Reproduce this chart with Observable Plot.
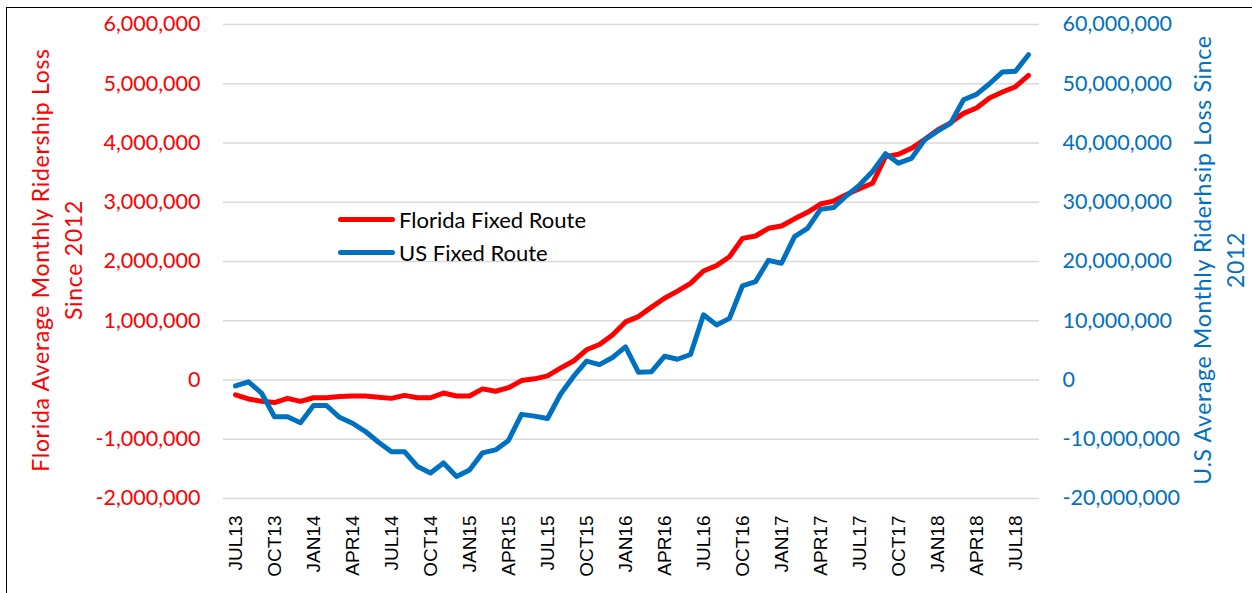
<!DOCTYPE html>
<html>
<head>
<meta charset="utf-8">
<script src="https://cdn.jsdelivr.net/npm/d3@7"></script>
<script src="https://cdn.jsdelivr.net/npm/@observablehq/plot@0.6"></script>
<style>
  html, body { margin: 0; padding: 0; background: #fff; }
  #wrap { position: relative; width: 1252px; height: 593px; overflow: hidden; font-family: Lato, "Open Sans", sans-serif; }
  #frame { position: absolute; left: 6px; top: 7px; width: 1400px; height: 800px; border: 1.5px solid #000; box-sizing: border-box; }
  #chart { position: absolute; left: 0; top: 0; }
  .ytitle { position: absolute; width: 480px; height: 66px; transform: rotate(-90deg); text-align: center; font-size: 23px; letter-spacing: 0.7px; line-height: 33px; white-space: nowrap; }
  #legend { position: absolute; left: 338px; top: 203px; font-size: 22px; color: #000; }
  .li { display: flex; align-items: center; height: 33px; }
  .sw { width: 57px; height: 5px; border-radius: 3px; margin-right: 4px; }
</style>
</head>
<body>
<div id="wrap">
  <div id="frame"></div>
  <div id="chart"></div>
  <div class="ytitle" id="ltitle" style="left:-183px; top:227px; color:#ff0000;">Florida Average Monthly Ridership Loss<br>Since 2012</div>
  <div class="ytitle" id="rtitle" style="left:979px; top:227px; color:#0070c0;">U.S Average Monthly Riderhsip Loss Since<br>2012</div>
  <div id="legend"></div>
</div>
<script>
// Categories (monthly, JUL13 .. AUG18)
const months = [
  "JUL13","AUG13","SEP13","OCT13","NOV13","DEC13",
  "JAN14","FEB14","MAR14","APR14","MAY14","JUN14","JUL14","AUG14","SEP14","OCT14","NOV14","DEC14",
  "JAN15","FEB15","MAR15","APR15","MAY15","JUN15","JUL15","AUG15","SEP15","OCT15","NOV15","DEC15",
  "JAN16","FEB16","MAR16","APR16","MAY16","JUN16","JUL16","AUG16","SEP16","OCT16","NOV16","DEC16",
  "JAN17","FEB17","MAR17","APR17","MAY17","JUN17","JUL17","AUG17","SEP17","OCT17","NOV17","DEC17",
  "JAN18","FEB18","MAR18","APR18","MAY18","JUN18","JUL18","AUG18"
];
// Florida average monthly ridership loss since 2012 (millions)
const floridaM = [
  -0.25,-0.32,-0.36,-0.38,-0.31,-0.36,-0.30,-0.30,-0.28,-0.27,-0.27,-0.29,-0.31,-0.26,-0.30,-0.30,
  -0.22,-0.27,-0.27,-0.15,-0.19,-0.13,-0.01,0.02,0.07,0.20,0.32,0.51,0.60,0.76,0.98,1.07,
  1.23,1.38,1.50,1.63,1.84,1.93,2.08,2.39,2.43,2.56,2.60,2.72,2.83,2.97,3.02,3.13,
  3.23,3.32,3.77,3.81,3.91,4.06,4.22,4.34,4.50,4.59,4.76,4.86,4.95,5.14
];
// U.S. average monthly ridership loss since 2012 (millions)
const usM = [
  -1.0,-0.3,-2.2,-6.2,-6.2,-7.2,-4.3,-4.3,-6.3,-7.3,-8.7,-10.5,-12.1,-12.1,-14.6,-15.7,
  -14.0,-16.3,-15.2,-12.3,-11.8,-10.2,-5.8,-6.1,-6.5,-2.4,0.6,3.2,2.6,3.8,5.6,1.3,
  1.4,4.0,3.5,4.3,11.0,9.3,10.4,15.9,16.6,20.2,19.7,24.2,25.6,28.8,29.1,31.1,
  32.9,35.2,38.2,36.6,37.4,40.5,42.0,43.3,47.3,48.2,50.0,52.0,52.1,54.9
];
// Axis ticks
const leftTicks = [-2000000,-1000000,0,1000000,2000000,3000000,4000000,5000000,6000000];
const rightToLeftRatio = 10; // right axis (U.S.) = 10 x left axis (Florida)
const xTickLabels = months.filter((d, i) => i % 3 === 0);
const seriesNames = ["Florida Fixed Route", "US Fixed Route"];
const seriesColors = ["#ff0000", "#0070c0"];

const fl = months.map((m, i) => ({month: m, value: floridaM[i] * 1e6}));
const us = months.map((m, i) => ({month: m, value: usM[i] * 1e6 / rightToLeftRatio}));
const fmt = d3.formatLocale({decimal: ".", thousands: ",", grouping: [3], currency: ["$", ""], minus: "-"}).format(",");

const chart = Plot.plot({
  width: 1252,
  height: 593,
  marginLeft: 223,
  marginRight: 213,
  marginTop: 24,
  marginBottom: 95,
  style: {background: "transparent", fontFamily: "Lato, 'Open Sans', sans-serif", overflow: "visible"},
  x: {type: "point", domain: months, padding: 0.5, axis: null},
  y: {domain: [-2000000, 6000000], axis: null},
  marks: [
    Plot.ruleY(leftTicks, {stroke: "#d9d9d9", strokeWidth: 1.5}),
    Plot.axisY(leftTicks, {anchor: "left", tickSize: 0, tickPadding: 23, tickFormat: fmt, fill: seriesColors[0], fontSize: 21.5, label: null}),
    Plot.axisY(leftTicks, {anchor: "right", tickSize: 0, tickPadding: 23, tickFormat: d => fmt(d * rightToLeftRatio), fill: seriesColors[1], fontSize: 21.5, label: null}),
    Plot.axisX(xTickLabels, {anchor: "bottom", tickSize: 0, tickPadding: 17, tickRotate: -90, fontSize: 19, fontFamily: "'Liberation Sans', Arial, sans-serif", fill: "#000", label: null}),
    Plot.lineY(fl, {x: "month", y: "value", stroke: seriesColors[0], strokeWidth: 5, strokeLinejoin: "round", strokeLinecap: "round"}),
    Plot.lineY(us, {x: "month", y: "value", stroke: seriesColors[1], strokeWidth: 5, strokeLinejoin: "round", strokeLinecap: "round"})
  ]
});
document.getElementById("chart").appendChild(chart);

const legend = document.getElementById("legend");
seriesNames.forEach((name, i) => {
  const row = document.createElement("div");
  row.className = "li";
  const sw = document.createElement("div");
  sw.className = "sw";
  sw.style.background = seriesColors[i];
  const t = document.createElement("span");
  t.textContent = name;
  row.appendChild(sw);
  row.appendChild(t);
  legend.appendChild(row);
});
</script>
</body>
</html>
